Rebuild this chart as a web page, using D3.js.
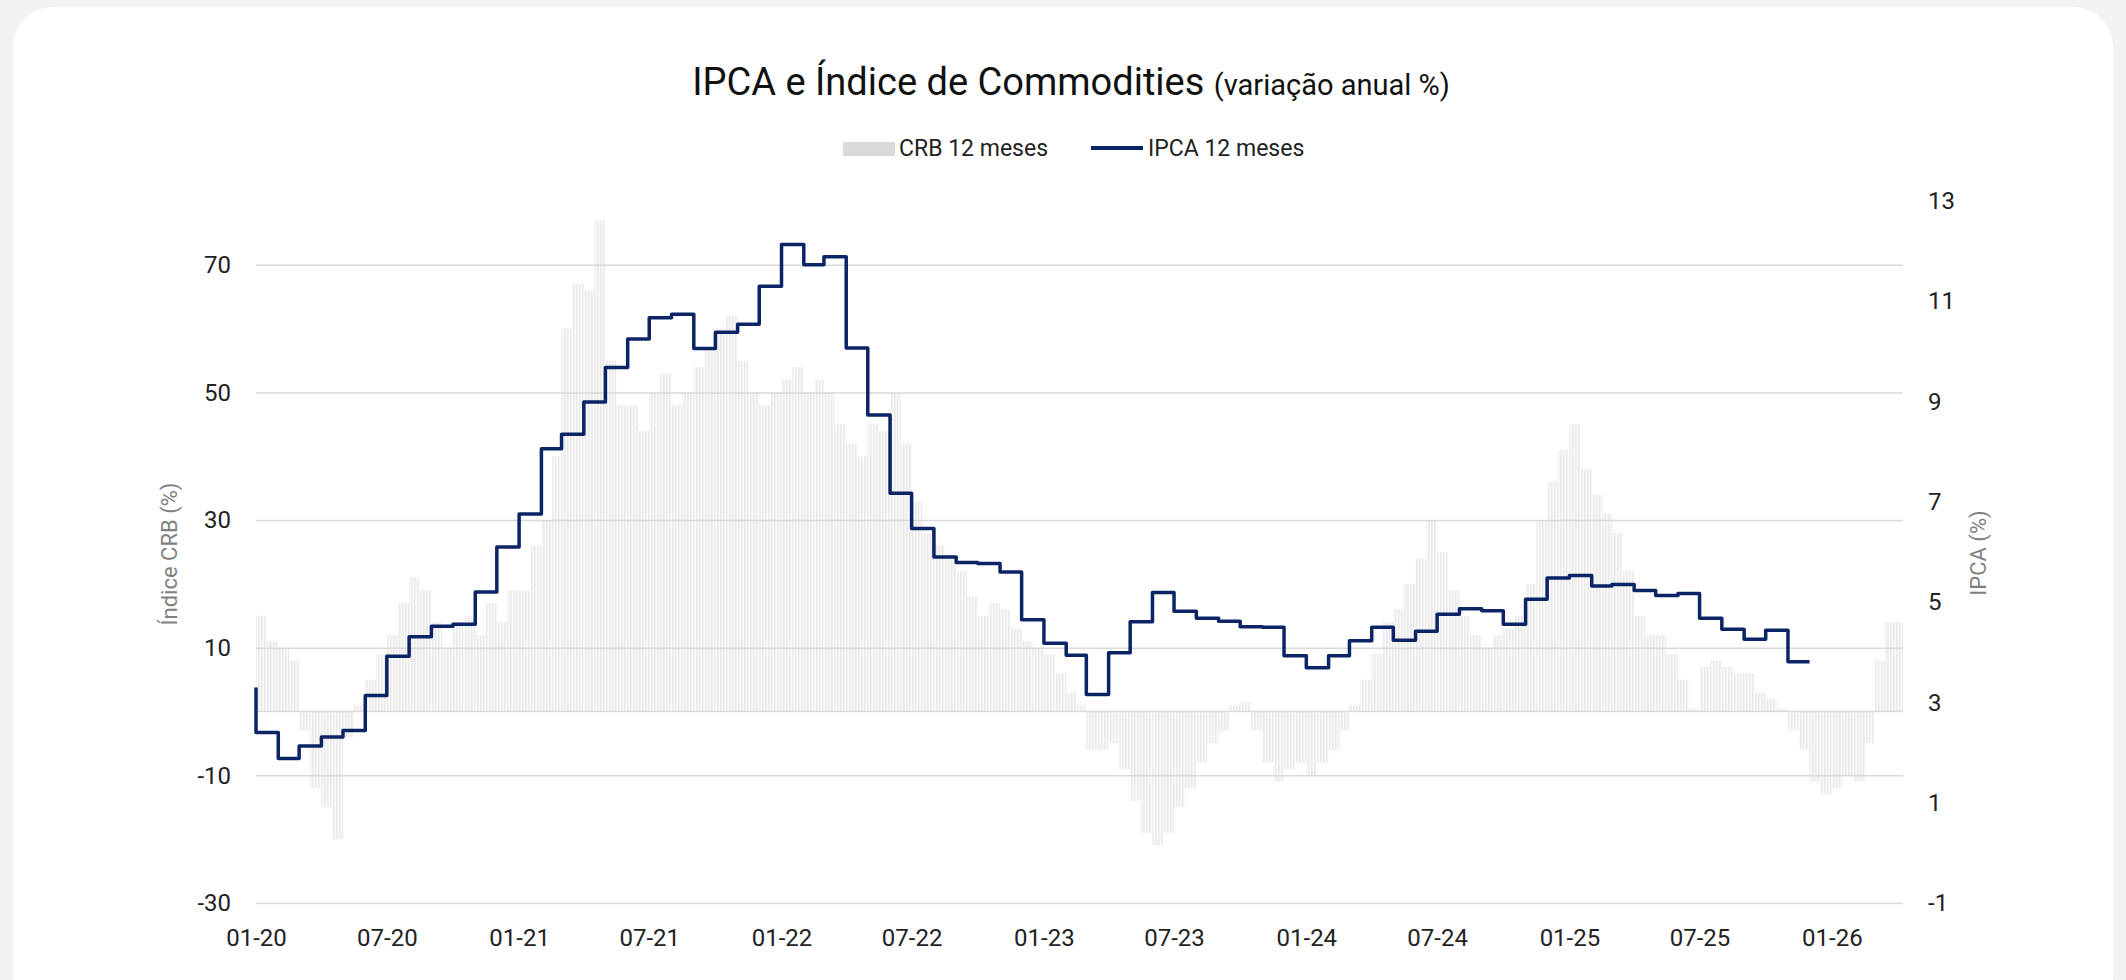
<!DOCTYPE html>
<html>
<head>
<meta charset="utf-8">
<script src="https://cdn.jsdelivr.net/npm/d3@7"></script>
<style>
  html, body { margin: 0; padding: 0; background: #f2f2f2; }
  svg { display: block; font-family: Roboto, "Noto Sans", sans-serif; }
</style>
</head>
<body>
<div id="chart"></div>
<script>
// CRB 12 meses (%), two readings per month (1st and 16th), Jan-2020 onwards
const crb2020 = [15, 11, 10, 8, -3, -12, -15, -20, -4, 1, 5, 9, 12, 17, 21, 19, 14, 10, 14, 15, 12, 17, 14, 19];
const crb2021 = [19, 26, 30, 40, 60, 67, 66, 77, 55, 48, 48, 44, 50, 53, 48, 50, 54, 57, 60, 62, 55, 50, 48, 50];
const crb2022 = [52, 54, 50, 52, 50, 45, 42, 40, 45, 44, 50, 42, 33, 28, 26, 24, 22, 18, 15, 17, 16, 13, 11, 10];
const crb2023 = [9, 6, 3, 1, -6, -6, -5, -9, -14, -19, -21, -19, -15, -12, -8, -5, -3, 1, 1.5, -3, -8, -11, -9, -8];
const crb2024 = [-10, -8, -6, -3, 1, 5, 9, 14, 16, 20, 24, 30, 25, 19, 15, 12, 10, 12, 13, 15, 20, 30, 36, 41];
const crb2025 = [45, 38, 34, 31, 28, 22, 15, 12, 12, 9, 5, 0.5, 7, 8, 7, 6, 6, 3, 2, 0.5, -3, -6, -11, -13];
const crb2026 = [-12, -10, -11, -5, 8, 14];

// IPCA 12 meses (%), one value per month step, first step starts at 01-20
const ipca = [
  3.30, 2.40, 1.88, 2.13, 2.31, 2.44, 3.14, 3.92, 4.31, 4.52, 4.56, 5.20,
  6.10, 6.76, 8.06, 8.35, 8.99, 9.68, 10.25, 10.67, 10.74, 10.06, 10.38, 10.54,
  11.30, 12.13, 11.73, 11.89, 10.07, 8.73, 7.17, 6.47, 5.90, 5.79, 5.77, 5.60,
  4.65, 4.18, 3.94, 3.16, 3.99, 4.61, 5.19, 4.82, 4.68, 4.62, 4.51, 4.50,
  3.93, 3.69, 3.93, 4.23, 4.50, 4.24, 4.42, 4.76, 4.87, 4.83, 4.56, 5.06,
  5.48, 5.53, 5.32, 5.35, 5.23, 5.13, 5.17, 4.68, 4.46, 4.26, 4.44, 3.81
];

const leftTicks = [-30, -10, 10, 30, 50, 70];
const rightTicks = [-1, 1, 3, 5, 7, 9, 11, 13];
const xTickDates = ["2020-01", "2020-07", "2021-01", "2021-07", "2022-01", "2022-07",
  "2023-01", "2023-07", "2024-01", "2024-07", "2025-01", "2025-07", "2026-01"];

const width = 2126, height = 980;
const plot = {left: 256, right: 1903, top: 201, bottom: 903};

const svg = d3.select("#chart").append("svg")
    .attr("width", width)
    .attr("height", height);

// card
svg.append("rect")
    .attr("x", 13).attr("y", 7)
    .attr("width", 2100).attr("height", 1010)
    .attr("rx", 40)
    .attr("fill", "#ffffff");

// stripe pattern for the thin daily-looking bars
const pat = svg.append("defs").append("pattern")
    .attr("id", "stripes")
    .attr("patternUnits", "userSpaceOnUse")
    .attr("width", 3).attr("height", 10);
pat.append("rect").attr("width", 3).attr("height", 10).attr("fill", "#f9f9f9");
pat.append("rect").attr("width", 1.5).attr("height", 10).attr("fill", "#eaeaea");

// scales
const xEnd = new Date(2026, 3, 10);
const x = d3.scaleTime()
    .domain([new Date(2020, 0, 1), xEnd])
    .range([plot.left, plot.right]);
const yL = d3.scaleLinear().domain([-30, 80]).range([plot.bottom, plot.top]);
const yR = d3.scaleLinear().domain([-1, 13]).range([plot.bottom, plot.top]);

// data
const crb = [...crb2020, ...crb2021, ...crb2022, ...crb2023, ...crb2024, ...crb2025, ...crb2026];
const crbData = crb.map((v, i) => ({
    start: new Date(2020, Math.floor(i / 2), i % 2 ? 16 : 1),
    value: v
}));
crbData.forEach((d, i) => {
    d.end = i < crbData.length - 1 ? crbData[i + 1].start : xEnd;
});
const ipcaData = ipca.map((v, i) => ({date: new Date(2020, i, 1), value: v}));

// bars
svg.append("g")
    .selectAll("rect")
    .data(crbData)
    .join("rect")
    .attr("x", d => x(d.start))
    .attr("width", d => x(d.end) - x(d.start))
    .attr("y", d => yL(Math.max(0, d.value)))
    .attr("height", d => Math.abs(yL(d.value) - yL(0)))
    .attr("fill", "url(#stripes)");

// plain hyphen for negatives, as in the original
const fmt = d => String(d);

// left axis + gridlines
const gLeft = svg.append("g")
    .attr("transform", `translate(${plot.left},0)`)
    .call(d3.axisLeft(yL)
        .tickValues(leftTicks)
        .tickFormat(fmt)
        .tickSizeInner(-(plot.right - plot.left))
        .tickSizeOuter(0)
        .tickPadding(25));
gLeft.select(".domain").remove();
gLeft.selectAll(".tick line").attr("stroke", "#d9d9d9").attr("stroke-width", 1.5);
gLeft.selectAll(".tick text")
    .attr("font-family", "Roboto, sans-serif")
    .attr("font-size", 24)
    .attr("fill", "#222");

// zero line
svg.append("line")
    .attr("x1", plot.left).attr("x2", plot.right)
    .attr("y1", yL(0)).attr("y2", yL(0))
    .attr("stroke", "#d9d9d9")
    .attr("stroke-width", 1.5);

// right axis
const gRight = svg.append("g")
    .attr("transform", `translate(${plot.right},0)`)
    .call(d3.axisRight(yR).tickValues(rightTicks).tickFormat(fmt).tickSize(0).tickPadding(25));
gRight.select(".domain").remove();
gRight.selectAll(".tick text")
    .attr("font-family", "Roboto, sans-serif")
    .attr("font-size", 24)
    .attr("fill", "#222");

// x axis
const parseMonth = d3.timeParse("%Y-%m");
const gX = svg.append("g")
    .attr("transform", `translate(0,${plot.bottom})`)
    .call(d3.axisBottom(x)
        .tickValues(xTickDates.map(parseMonth))
        .tickFormat(d3.timeFormat("%m-%y"))
        .tickSize(0)
        .tickPadding(26));
gX.select(".domain").remove();
gX.selectAll(".tick text")
    .attr("font-family", "Roboto, sans-serif")
    .attr("font-size", 24)
    .attr("fill", "#222");

// IPCA line
const line = d3.line()
    .x(d => x(d.date))
    .y(d => yR(d.value))
    .curve(d3.curveStepBefore);
svg.append("path")
    .datum(ipcaData)
    .attr("fill", "none")
    .attr("stroke", "#0b2466")
    .attr("stroke-width", 3.5)
    .attr("stroke-linejoin", "round")
    .attr("d", line);

// axis titles
svg.append("text")
    .attr("transform", "translate(169,554) rotate(-90)")
    .attr("text-anchor", "middle")
    .attr("dominant-baseline", "central")
    .attr("font-size", 22)
    .attr("fill", "#7f7f7f")
    .text("Índice CRB (%)");

svg.append("text")
    .attr("transform", "translate(1978,553) rotate(-90)")
    .attr("text-anchor", "middle")
    .attr("dominant-baseline", "central")
    .attr("font-size", 22)
    .attr("fill", "#7f7f7f")
    .text("IPCA (%)");

// title
const title = svg.append("text")
    .attr("x", 1071)
    .attr("y", 95)
    .attr("text-anchor", "middle")
    .attr("fill", "#111");
title.append("tspan").attr("font-size", 38).text("IPCA e Índice de Commodities ");
title.append("tspan").attr("font-size", 29).text("(variação anual %)");

// legend
svg.append("rect")
    .attr("x", 843).attr("y", 142)
    .attr("width", 52).attr("height", 14)
    .attr("fill", "#d9d9d9");
svg.append("text")
    .attr("x", 899).attr("y", 156)
    .attr("font-size", 23)
    .attr("fill", "#222")
    .text("CRB 12 meses");
svg.append("line")
    .attr("x1", 1091).attr("x2", 1143)
    .attr("y1", 148).attr("y2", 148)
    .attr("stroke", "#0b2466")
    .attr("stroke-width", 4);
svg.append("text")
    .attr("x", 1148).attr("y", 156)
    .attr("font-size", 23)
    .attr("fill", "#222")
    .text("IPCA 12 meses");
</script>
</body>
</html>
